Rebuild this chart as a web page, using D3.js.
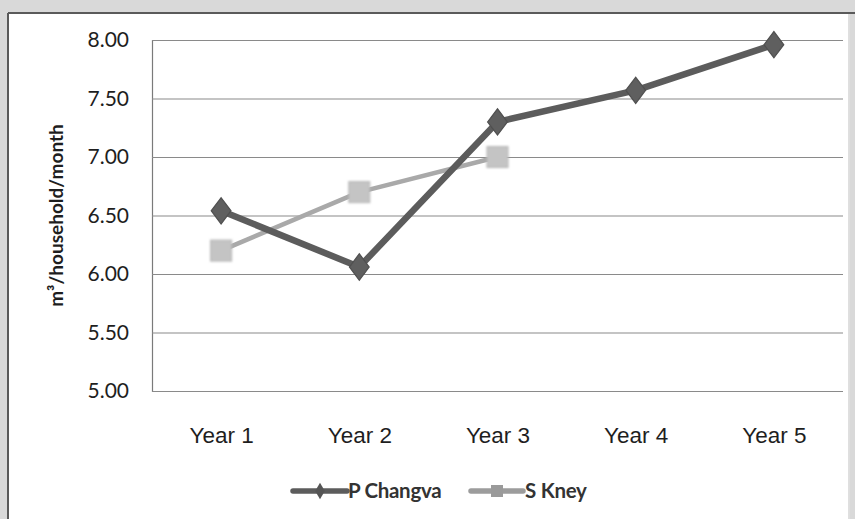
<!DOCTYPE html>
<html>
<head>
<meta charset="utf-8">
<script src="https://cdn.jsdelivr.net/npm/d3@7"></script>
<style>
  html, body { margin: 0; padding: 0; background: #d9d9d9; }
  svg { display: block; }
</style>
</head>
<body>
<svg id="chart" width="855" height="519"></svg>
<script>
// Monthly water use per household, two villages
const years = ["Year 1", "Year 2", "Year 3", "Year 4", "Year 5"];
const pChangva = [6.54, 6.06, 7.30, 7.57, 7.96];
const sKney = [6.20, 6.70, 7.00, null, null];
const yTicks = [5.00, 5.50, 6.00, 6.50, 7.00, 7.50, 8.00];
const seriesNames = ["P Changva", "S Kney"];

const svg = d3.select("#chart");
const W = 855, H = 519;

// Frame of the chart area
svg.append("rect").attr("x", 0).attr("y", 0).attr("width", W).attr("height", H).attr("fill", "#d9d9d9");
svg.append("rect").attr("x", 9).attr("y", 14).attr("width", 839).attr("height", H).attr("fill", "#ffffff");
svg.append("line").attr("x1", 8).attr("x2", 8).attr("y1", 13).attr("y2", H)
  .attr("stroke", "#5a5a5a").attr("stroke-width", 2);
svg.append("line").attr("x1", 8).attr("x2", W).attr("y1", 13).attr("y2", 13)
  .attr("stroke", "#5a5a5a").attr("stroke-width", 2);
svg.append("line").attr("x1", 849).attr("x2", 849).attr("y1", 14).attr("y2", H)
  .attr("stroke", "#e4e4e4").attr("stroke-width", 1);

const plot = { left: 152, right: 843, top: 40, bottom: 391 };

const x = d3.scalePoint().domain(years).range([plot.left, plot.right]).padding(0.5);
const y = d3.scaleLinear().domain([5, 8]).range([plot.bottom, plot.top]);

// Y axis with horizontal gridlines
const yAxis = svg.append("g")
  .attr("transform", `translate(${plot.left},0)`)
  .call(d3.axisLeft(y).tickValues(yTicks).tickFormat(d3.format(".2f"))
    .tickSize(-(plot.right - plot.left)).tickPadding(23));
yAxis.select(".domain").attr("stroke", "#7a7a7a").attr("stroke-width", 1.2);
yAxis.selectAll(".tick line").attr("stroke", "#8a8a8a").attr("stroke-width", 1.2);
yAxis.selectAll(".tick text")
  .attr("font-family", "Lato, 'Open Sans', sans-serif")
  .attr("font-size", 21).attr("fill", "#1e1e1e");

// X axis labels
const xAxis = svg.append("g")
  .attr("transform", `translate(0,${plot.bottom})`)
  .call(d3.axisBottom(x).tickSize(0).tickPadding(36));
xAxis.select(".domain").remove();
xAxis.selectAll(".tick text")
  .attr("font-family", "'Liberation Sans', Arial, sans-serif")
  .attr("font-size", 22.5).attr("fill", "#1e1e1e");

// Y axis title
svg.append("text")
  .attr("transform", `translate(63,${(plot.top + plot.bottom) / 2}) rotate(-90)`)
  .attr("text-anchor", "middle")
  .attr("font-family", "Lato, 'Open Sans', sans-serif")
  .attr("font-weight", "bold").attr("font-size", 19).attr("fill", "#1e1e1e")
  .text("m³/household/month");

// Series
const defs = svg.append("defs");
defs.append("filter").attr("id", "soft").append("feGaussianBlur").attr("stdDeviation", 0.6);
defs.append("filter").attr("id", "softer").append("feGaussianBlur").attr("stdDeviation", 1.1);

const line = d3.line()
  .defined(d => d.v !== null)
  .x(d => x(d.year))
  .y(d => y(d.v));

const toPts = vals => years.map((yr, i) => ({ year: yr, v: vals[i] }));
const kPts = toPts(sKney);
const pPts = toPts(pChangva);

const gK = svg.append("g").attr("filter", "url(#soft)");
gK.append("path").datum(kPts).attr("d", line)
  .attr("fill", "none").attr("stroke", "#a9a9a9").attr("stroke-width", 4.5)
  .attr("stroke-linejoin", "round");

const gP = svg.append("g").attr("filter", "url(#soft)");
gP.append("path").datum(pPts).attr("d", line)
  .attr("fill", "none").attr("stroke", "#5c5c5c").attr("stroke-width", 6.5)
  .attr("stroke-linejoin", "round");

// Markers
const diamond = d3.symbol().type(d3.symbolDiamond).size(200);
gP.selectAll("path.mark").data(pPts.filter(d => d.v !== null)).enter()
  .append("path").attr("class", "mark")
  .attr("d", diamond)
  .attr("transform", d => `translate(${x(d.year)},${y(d.v)}) scale(1.3,1)`)
  .attr("fill", "#5e5e5e").attr("stroke", "#505050").attr("stroke-width", 1);

const sq = 21;
svg.append("g").attr("filter", "url(#softer)")
  .selectAll("rect").data(kPts.filter(d => d.v !== null)).enter()
  .append("rect")
  .attr("x", d => x(d.year) - sq / 2).attr("y", d => y(d.v) - sq / 2)
  .attr("width", sq).attr("height", sq)
  .attr("fill", "#c4c4c4").attr("stroke", "#b4b4b4").attr("stroke-width", 1);

// Legend
const legend = svg.append("g").attr("transform", "translate(0,491)");
const legFont = "Lato, 'Open Sans', sans-serif";

legend.append("line").attr("x1", 293).attr("x2", 347).attr("y1", 0).attr("y2", 0)
  .attr("stroke", "#5c5c5c").attr("stroke-width", 5.5).attr("stroke-linecap", "round");
legend.append("path").attr("d", d3.symbol().type(d3.symbolDiamond).size(80))
  .attr("transform", "translate(320,0)").attr("fill", "#555");
legend.append("text").attr("x", 348).attr("y", 7)
  .attr("font-family", legFont).attr("font-weight", "bold").attr("font-size", 20.5)
  .attr("fill", "#333").attr("letter-spacing", -0.3).text(seriesNames[0]);

legend.append("line").attr("x1", 471).attr("x2", 523).attr("y1", 0).attr("y2", 0)
  .attr("stroke", "#9c9c9c").attr("stroke-width", 5.5).attr("stroke-linecap", "round");
legend.append("rect").attr("x", 491).attr("y", -6).attr("width", 12).attr("height", 12)
  .attr("fill", "#9a9a9a");
legend.append("text").attr("x", 525).attr("y", 7)
  .attr("font-family", legFont).attr("font-weight", "bold").attr("font-size", 20.5)
  .attr("fill", "#333").attr("letter-spacing", -0.3).text(seriesNames[1]);
</script>
</body>
</html>
